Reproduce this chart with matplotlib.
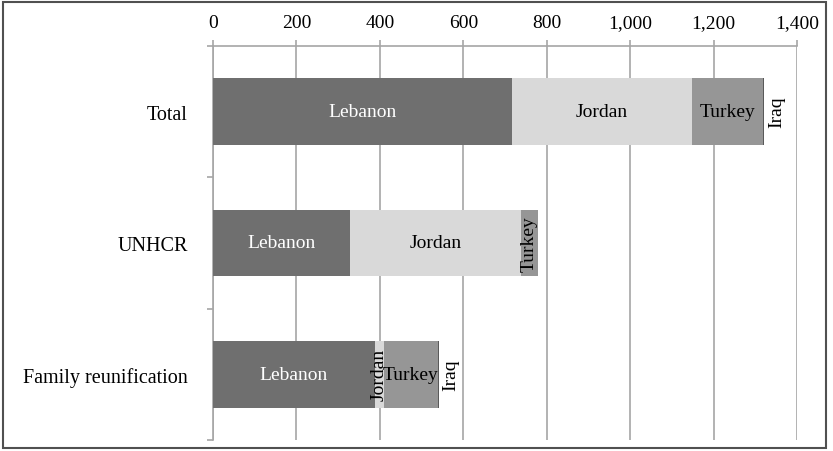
import numpy as np
import matplotlib.pyplot as plt
from matplotlib.patches import Rectangle
from matplotlib.ticker import FuncFormatter

# data
categories = ['Total', 'UNHCR', 'Family reunification']
countries = ['Lebanon', 'Jordan', 'Turkey', 'Iraq']
lebanon = [716, 328, 388]
jordan = [432, 411, 21]
turkey = [170, 40, 130]
iraq = [3, 0, 2]
xticks = [0, 200, 400, 600, 800, 1000, 1200, 1400]

colors = ['#6f6f6f', '#d9d9d9', '#969696', '#5a5a5a']
text_colors = ['white', 'black', 'black', 'black']

plt.rcParams['font.family'] = ['Liberation Serif', 'DejaVu Serif']

fig = plt.figure(figsize=(8.33, 4.52), dpi=100)
ax = fig.add_axes([213 / 833, 11 / 452, 584 / 833, 394 / 452])

series = [lebanon, jordan, turkey, iraq]
y = np.arange(len(categories))
left = np.zeros(len(categories))
for name, vals, c, tc in zip(countries, series, colors, text_colors):
    vals = np.array(vals, dtype=float)
    ax.barh(y, vals, left=left, height=0.51, color=c, zorder=3)
    for i in range(len(categories)):
        w = vals[i]
        if w <= 0:
            continue
        cx = left[i] + w / 2
        if name == 'Iraq':
            ax.annotate(name, (left[i] + w, y[i]), xytext=(9, 0),
                        textcoords='offset points', rotation=90,
                        ha='center', va='center', fontsize=14, color=tc,
                        zorder=4)
        elif w < 80:
            ax.text(cx, y[i], name, rotation=90, ha='center', va='center',
                    fontsize=14, color=tc, zorder=4)
        else:
            ax.text(cx, y[i], name, ha='center', va='center',
                    fontsize=14, color=tc, zorder=4)
    left = left + vals

ax.set_xlim(0, 1400)
ax.set_ylim(len(categories) - 0.5, -0.5)
ax.set_xticks(xticks)
ax.xaxis.set_major_formatter(FuncFormatter(lambda v, p: '{:,.0f}'.format(v)))
ax.xaxis.tick_top()
ax.tick_params(axis='x', direction='out', length=4, width=1.2, color='#a6a6a6',
               labelsize=14, pad=7)
ax.grid(axis='x', color='#a6a6a6', linewidth=1.2, zorder=0)

ax.set_yticks(y)
ax.set_yticklabels(categories, fontsize=14.5)
ax.set_yticks(np.arange(len(categories) + 1) - 0.5, minor=True)
ax.tick_params(axis='y', which='major', length=0, pad=18)
ax.tick_params(axis='y', which='minor', length=4, width=1.2, color='#a6a6a6')

for s in ['right', 'bottom']:
    ax.spines[s].set_visible(False)
for s in ['left', 'top']:
    ax.spines[s].set_color('#a6a6a6')
    ax.spines[s].set_linewidth(1.2)

fig.patches.append(Rectangle((3 / 833, 3 / 452), 823 / 833, 446 / 452,
                             transform=fig.transFigure, fill=False,
                             edgecolor='#505050', linewidth=1.5))

fig.savefig('out.png', dpi=100)
